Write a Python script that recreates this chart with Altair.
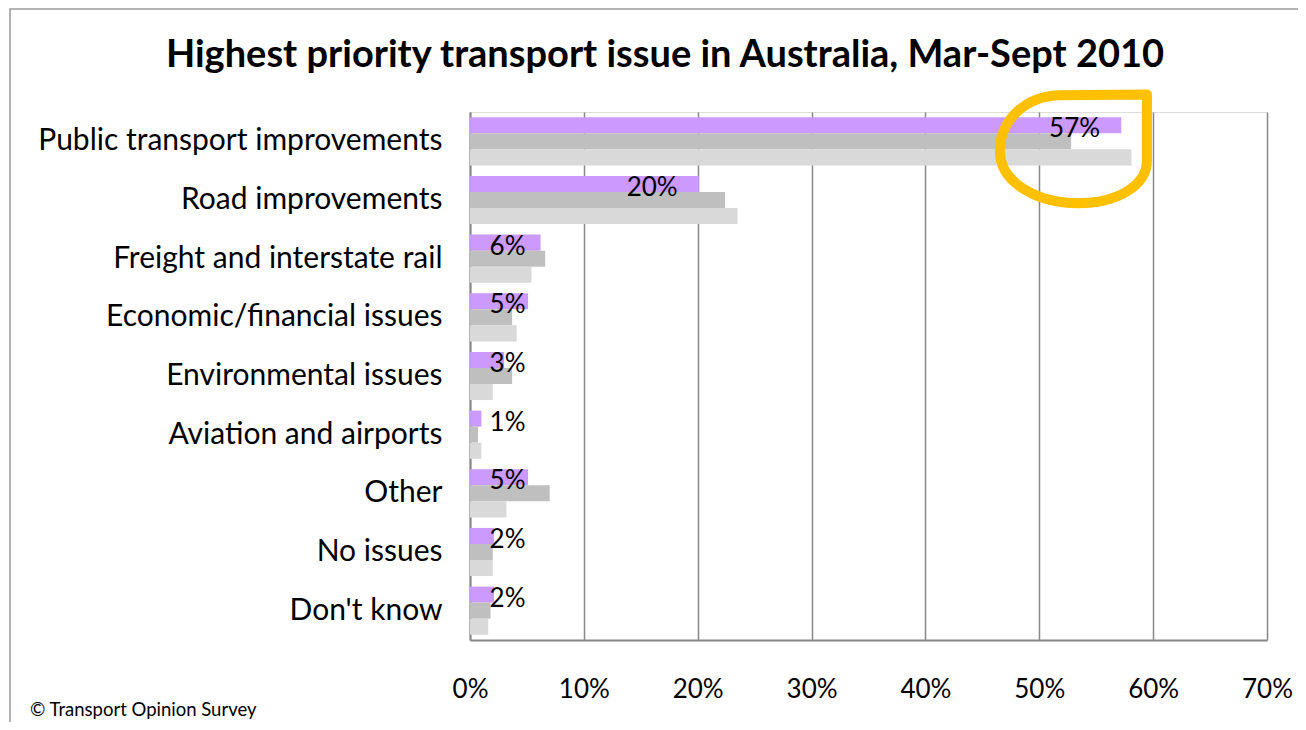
import altair as alt
import pandas as pd

categories = ["Public transport improvements", "Road improvements", "Freight and interstate rail",
              "Economic/financial issues", "Environmental issues", "Aviation and airports",
              "Other", "No issues", "Don't know"]
series_names = ["Sept 2010", "Jun 2010", "Mar 2010"]
series_colors = ["#CC99FF", "#BFBFBF", "#D9D9D9"]
values_s1 = [57.2, 20.1, 6.2, 5.1, 3.0, 1.0, 5.1, 2.1, 2.1]
values_s2 = [52.8, 22.4, 6.6, 3.7, 3.7, 0.7, 7.0, 2.0, 1.8]
values_s3 = [58.1, 23.5, 5.4, 4.1, 2.0, 1.0, 3.2, 2.0, 1.6]
x_ticks = [0, 10, 20, 30, 40, 50, 60, 70]

title_text = "Highest priority transport issue in Australia, Mar-Sept 2010"
footer_text = "\u00a9 Transport Opinion Survey"

FONT = "Lato"

rows = []
for s, vals in zip(series_names, [values_s1, values_s2, values_s3]):
    for c, v in zip(categories, vals):
        rows.append({"category": c, "series": s, "value": v})
df = pd.DataFrame(rows)
df_labels = pd.DataFrame({"category": categories, "series": series_names[0], "value": values_s1})
df_note = pd.DataFrame({"category": [categories[0]], "value": [53.0]})
df_one = pd.DataFrame({"k": [1]})

x_scale = alt.Scale(domain=[0, 70], nice=False, zero=True)
y_enc = alt.Y("category:N", sort=categories,
              scale=alt.Scale(paddingInner=0.18, paddingOuter=0.09),
              axis=alt.Axis(title=None, ticks=False, labelFontSize=30, labelFont=FONT,
                            labelColor="#000000", labelPadding=28, domainColor="#888888",
                            domainWidth=2, labelLimit=600))

frame = alt.Chart(df_one).mark_rect(fill="transparent", stroke="#9A9A9A", strokeWidth=1.5).encode(
    x=alt.value(-460), x2=alt.value(900), y=alt.value(-103), y2=alt.value(700))

bars = alt.Chart(df).mark_bar().encode(
    x=alt.X("value:Q", scale=x_scale,
            axis=alt.Axis(title=None, values=x_ticks, labelExpr="datum.value + '%'",
                          grid=True, gridColor="#888888", gridWidth=1.5, ticks=False,
                          domainColor="#888888", domainWidth=2, labelFontSize=26,
                          labelFont=FONT, labelColor="#000000", labelPadding=36,
                          labelFlush=False)),
    y=y_enc,
    yOffset=alt.YOffset("series:N", sort=series_names,
                        scale=alt.Scale(paddingInner=0, paddingOuter=0)),
    color=alt.Color("series:N", scale=alt.Scale(domain=series_names, range=series_colors),
                    legend=None),
)

note_path = ("M 1 -0.74 L 1 0.16 C 1 0.5 0.6 0.74 0.06 0.74 C -0.5 0.74 -1 0.45 -1 0.04 "
             "C -1 -0.4 -0.65 -0.72 -0.18 -0.73 Z")
note = alt.Chart(df_note).mark_point(shape=note_path, size=21609, filled=False,
                                     stroke="#FFC000", strokeWidth=10, opacity=1,
                                     strokeJoin="round", yOffset=7.5).encode(
    x=alt.X("value:Q", scale=x_scale),
    y=alt.Y("category:N", sort=categories),
)

labels = alt.Chart(df_labels).transform_calculate(
    lx="max(datum.value - 4.1, 3.3)",
    txt="format(datum.value, '.0f') + '%'",
).mark_text(fontSize=26, font=FONT, color="#000000", align="center", baseline="middle", dy=4).encode(
    x=alt.X("lx:Q", scale=x_scale),
    y=alt.Y("category:N", sort=categories),
    yOffset=alt.YOffset("series:N", sort=series_names),
    text="txt:N",
)

title = alt.Chart(df_one).mark_text(text=title_text, fontSize=38, fontWeight="bold", font=FONT,
                                    color="#000000", align="center", baseline="alphabetic").encode(
    x=alt.value(195), y=alt.value(-45))

footer = alt.Chart(df_one).mark_text(text=footer_text, fontSize=18.5, font=FONT, color="#000000",
                                     align="left", baseline="middle").encode(
    x=alt.value(-440), y=alt.value(598))

chart = alt.layer(frame, bars, note, labels, title, footer).properties(
    width=797, height=528,
    autosize=alt.AutoSizeParams(type="none"),
    padding={"left": 462, "top": 104, "right": 31, "bottom": 82},
).configure_view(stroke="transparent").configure(background="#FFFFFF")

chart.save("out.html", embed_options={"renderer": "svg", "actions": False})
